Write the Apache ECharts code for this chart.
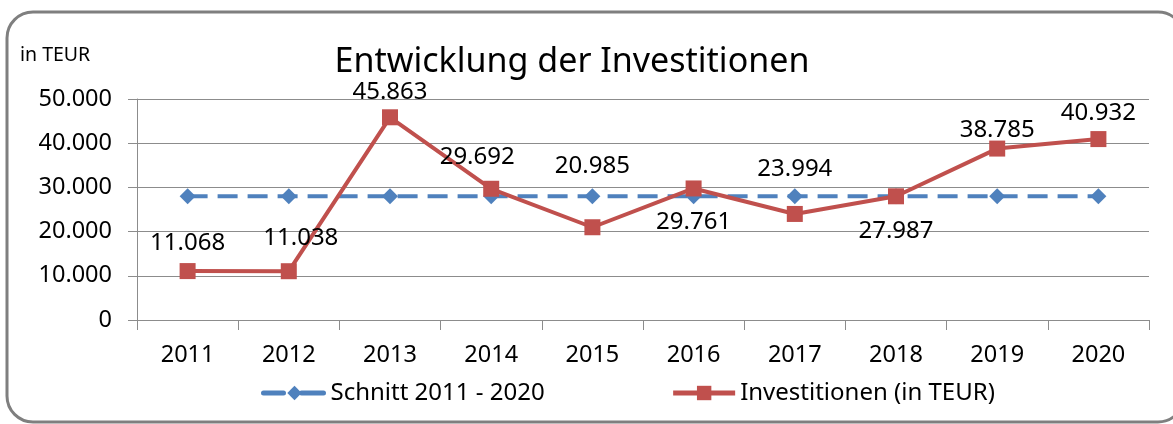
<!DOCTYPE html>
<html>
<head>
<meta charset="utf-8">
<script src="https://cdn.jsdelivr.net/npm/echarts@6/dist/echarts.min.js"></script>
<style>
  html, body { margin: 0; padding: 0; background: #fff; }
  #main { width: 1173px; height: 424px; }
</style>
</head>
<body>
<div id="main"></div>
<script>
var years = ['2011', '2012', '2013', '2014', '2015', '2016', '2017', '2018', '2019', '2020'];
var investitionen = [11068, 11038, 45863, 29692, 20985, 29761, 23994, 27987, 38785, 40932];
var schnitt = [28010.5, 28010.5, 28010.5, 28010.5, 28010.5, 28010.5, 28010.5, 28010.5, 28010.5, 28010.5];
var yTicks = [0, 10000, 20000, 30000, 40000, 50000];

// label placement per point (Excel labels were moved by hand)
var labelOffsets = [[0, -28], [12, -33], [0, -25], [-14, -32], [0, -61], [0, 34], [0, -45], [0, 35], [0, -18], [0, -26]];

var font = '"Noto Sans", "Open Sans", sans-serif';
var gridColor = '#8c8c8c';
var blue = '#4f81bd';
var red = '#c0504d';

function fmt(v) {
  return String(Math.round(v)).replace(/\B(?=(\d{3})+(?!\d))/g, '.');
}

var chart = echarts.init(document.getElementById('main'));

var redData = investitionen.map(function (v, i) {
  return {
    value: v,
    label: { offset: labelOffsets[i] }
  };
});

var option = {
  animation: false,
  textStyle: { fontFamily: font },
  graphic: [
    {
      type: 'rect',
      shape: { x: 7, y: 12, width: 1177, height: 410, r: 26 },
      style: { fill: 'none', stroke: '#7f7f7f', lineWidth: 3 },
      silent: true
    },
    {
      type: 'text',
      left: 20, top: 45,
      style: { text: 'in TEUR', font: '19.5px ' + font, fill: '#000' }
    }
  ],
  title: {
    text: 'Entwicklung der Investitionen',
    left: 567, top: 40,
    textAlign: 'center',
    textStyle: { fontFamily: font, fontSize: 34, fontWeight: 'normal', color: '#000' }
  },
  grid: { left: 137, right: 24, top: 99, bottom: 104, containLabel: false },
  legend: {
    top: 376,
    left: 256,
    itemWidth: 62,
    itemHeight: 18,
    itemGap: 126,
    textStyle: { fontFamily: font, fontSize: 24, color: '#000' },
    data: [
      {
        name: 'Schnitt 2011 - 2020',
        lineStyle: { width: 5, type: [20, 18, 22], cap: 'round' }
      },
      {
        name: 'Investitionen (in TEUR)',
        lineStyle: { width: 5, type: 'solid' }
      }
    ]
  },
  xAxis: {
    type: 'category',
    data: years,
    boundaryGap: true,
    axisLine: { lineStyle: { color: gridColor, width: 1 } },
    axisTick: { show: true, length: 10, alignWithLabel: false, lineStyle: { color: gridColor } },
    axisLabel: { fontFamily: font, fontSize: 23.5, color: '#000', margin: 23 }
  },
  yAxis: {
    type: 'value',
    min: yTicks[0],
    max: yTicks[yTicks.length - 1],
    interval: 10000,
    axisLine: { show: true, lineStyle: { color: gridColor, width: 1 } },
    axisTick: { show: true, length: 9, lineStyle: { color: gridColor } },
    splitLine: { show: true, lineStyle: { color: gridColor, width: 1 } },
    axisLabel: { fontFamily: font, fontSize: 23.5, color: '#000', margin: 25, formatter: fmt }
  },
  series: [
    {
      name: 'Schnitt 2011 - 2020',
      type: 'line',
      data: schnitt,
      symbol: 'diamond',
      symbolSize: 16,
      itemStyle: { color: blue },
      lineStyle: { color: blue, width: 4, type: [20, 10] },
      z: 2
    },
    {
      name: 'Investitionen (in TEUR)',
      type: 'line',
      data: redData,
      symbol: 'rect',
      symbolSize: 16,
      itemStyle: { color: red },
      lineStyle: { color: red, width: 4 },
      label: {
        show: true,
        position: 'inside',
        align: 'center',
        verticalAlign: 'middle',
        fontFamily: font,
        fontSize: 24,
        color: '#000',
        formatter: function (p) { return fmt(p.value); }
      },
      z: 3
    }
  ]
};

chart.setOption(option);
</script>
</body>
</html>
